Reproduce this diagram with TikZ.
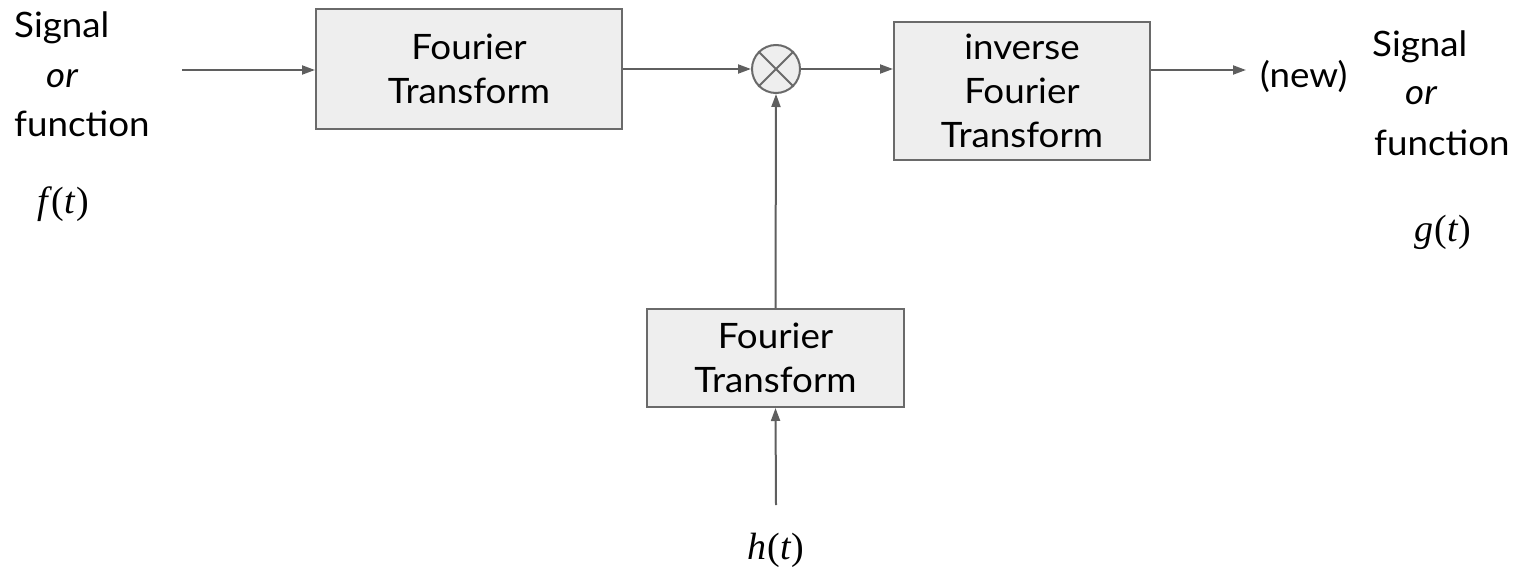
\documentclass[tikz,border=0pt]{standalone}
\usepackage{fontspec}
\setmainfont{Lato}[FakeStretch=1.05]
\newfontfamily\mathlikefont{Liberation Serif}
\usetikzlibrary{arrows.meta}
\definecolor{linegray}{HTML}{5F5F5F}
\definecolor{boxfill}{HTML}{EEEEEE}
\definecolor{boxline}{HTML}{6A6A6A}
\newcommand{\mvar}[1]{{\mathlikefont\itshape #1}}
\tikzset{
  fbox/.style={draw=boxline, fill=boxfill, line width=2pt, inner sep=0pt, align=center,
    font=\fontsize{35}{44}\selectfont},
  conn/.style={draw=linegray, line width=2pt, -{Triangle[length=13pt,width=9pt]}},
  lbl/.style={inner sep=0pt, font=\fontsize{35}{40}\selectfont},
  orlbl/.style={inner sep=0pt, font=\fontsize{35}{38}\selectfont\itshape},
  mathlbl/.style={inner sep=0pt, font=\fontsize{38}{42}\mathlikefont},
}
\begin{document}
\begin{tikzpicture}[x=1pt,y=-1pt]
\useasboundingbox (0,0) rectangle (1513,575);
% boxes
\node[fbox, minimum width=306pt, minimum height=120pt] (ft1) at (469,69) {Fourier\\Transform};
\node[fbox, minimum width=256pt, minimum height=138pt] (ift) at (1022,91) {inverse\\Fourier\\Transform};
\node[fbox, minimum width=257pt, minimum height=98pt] (ft2) at (775.5,358) {Fourier\\Transform};
% multiplier
\node[draw=boxline, fill=boxfill, line width=2pt, circle, minimum size=48pt, inner sep=0pt] (mul) at (776,69) {};
\draw[boxline, line width=2pt] (mul.45) -- (mul.225) (mul.135) -- (mul.315);
% left labels
\node[lbl, anchor=base west] (sigL) at (14,38) {Signal};
\node[orlbl, anchor=base west] (orL) at (46,88) {or};
\node[lbl, anchor=base west] (funL) at (14,137) {function};
\node[mathlbl] (fL) at (63,204) {\mvar{f}\kern4pt(\mvar{t}\kern1pt)};
% right labels
\node[lbl, anchor=base west] (newR) at (1260,88) {(new)};
\node[lbl, anchor=base west] (sigR) at (1372,57) {Signal};
\node[orlbl, anchor=base west] (orR) at (1405,105) {or};
\node[lbl, anchor=base west] (funR) at (1374,156) {function};
\node[mathlbl] (gR) at (1443,232) {\mvar{g}\kern1pt(\mvar{t}\kern1pt)};
% bottom
\node[mathlbl] (hB) at (776,550) {\mvar{h}\kern1pt(\mvar{t}\kern1pt)};
\coordinate (inL) at (182,70);
\coordinate (outR) at (1246,70);
\coordinate (hTop) at (776,505);
% connectors
\draw[conn] (inL) -- (inL -| ft1.west);
\draw[conn] (ft1.east |- mul.west) -- (mul.west);
\draw[conn] (mul.east) -- (mul.east -| ift.west);
\draw[conn] (ift.east |- outR) -- (outR);
\draw[conn] (ft2.north) -- (mul.south);
\draw[conn] (hTop) -- (ft2.south);
\end{tikzpicture}
\end{document}
